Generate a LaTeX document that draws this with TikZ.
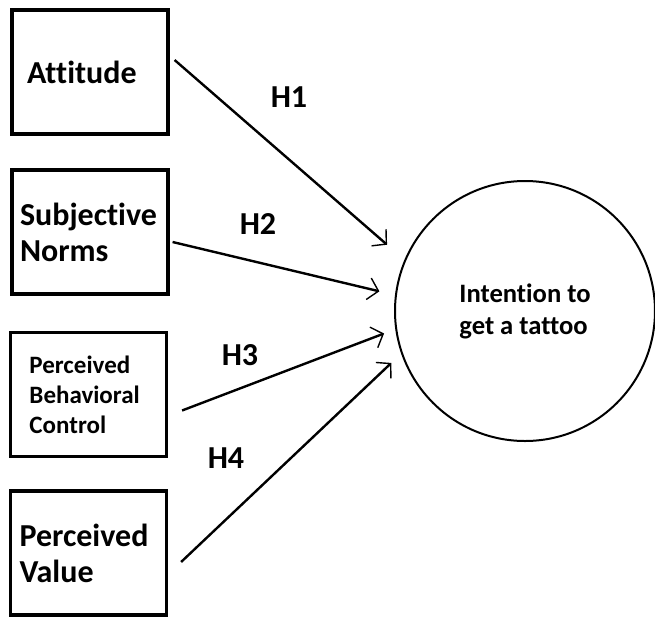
\documentclass[tikz,border=0pt]{standalone}
\usepackage{fontspec}
\setmainfont{Carlito}[Ligatures={NoCommon}]
\usetikzlibrary{arrows.meta}

\begin{document}
\begin{tikzpicture}[x=0.5pt,y=-0.5pt,
  construct/.style={draw,line width=1.6pt,minimum width=78pt,minimum height=62pt,
    align=left,font=\fontsize{16}{18}\selectfont\bfseries},
  outcome/.style={draw,circle,line width=1pt,minimum size=130pt,align=left,
    font=\fontsize{13.3}{16}\selectfont\bfseries},
  hyp/.style={line width=1.2pt,-{Straight Barb[length=5pt,width=11pt,line width=0.7pt]}},
  hlabel/.style={font=\fontsize{16}{18}\selectfont\bfseries}]

\useasboundingbox (0,0) rectangle (655,617);

\node[construct,inner xsep=7.5pt,text width=63pt] (att) at (90,72) {Attitude};
\node[construct,inner xsep=4pt,text width=70pt] (sn) at (90,232) {Subjective\\Norms};
\node[construct,inner xsep=9.5pt,text width=59pt,
  font=\fontsize{12.5}{15}\selectfont\bfseries] (pbc) at (88.5,394.5)
  {Perceived\\Behavioral\\Control};
\node[construct,inner xsep=4.5pt,text width=69pt] (pv) at (88.5,553) {Perceived\\Value};

\node[outcome] (intent) at (525,311) {Intention to\\get a tattoo};

\draw[hyp,shorten >=11.5pt] ([shift={(5,-12)}]att.east) -- (intent.157);
\draw[hyp,shorten >=8pt] ([shift={(3,10)}]sn.east) -- (intent.173);
\draw[hyp,shorten >=6pt] ([shift={(14,16)}]pbc.east) -- (intent.188);
\draw[hyp,shorten >=6.75pt] ([shift={(13,9)}]pv.east) -- (intent.199);

\node[hlabel] (h1) at (289,97) {H1};
\node[hlabel] (h2) at (258,224) {H2};
\node[hlabel] (h3) at (240,355) {H3};
\node[hlabel] (h4) at (226,458) {H4};
\end{tikzpicture}
\end{document}
